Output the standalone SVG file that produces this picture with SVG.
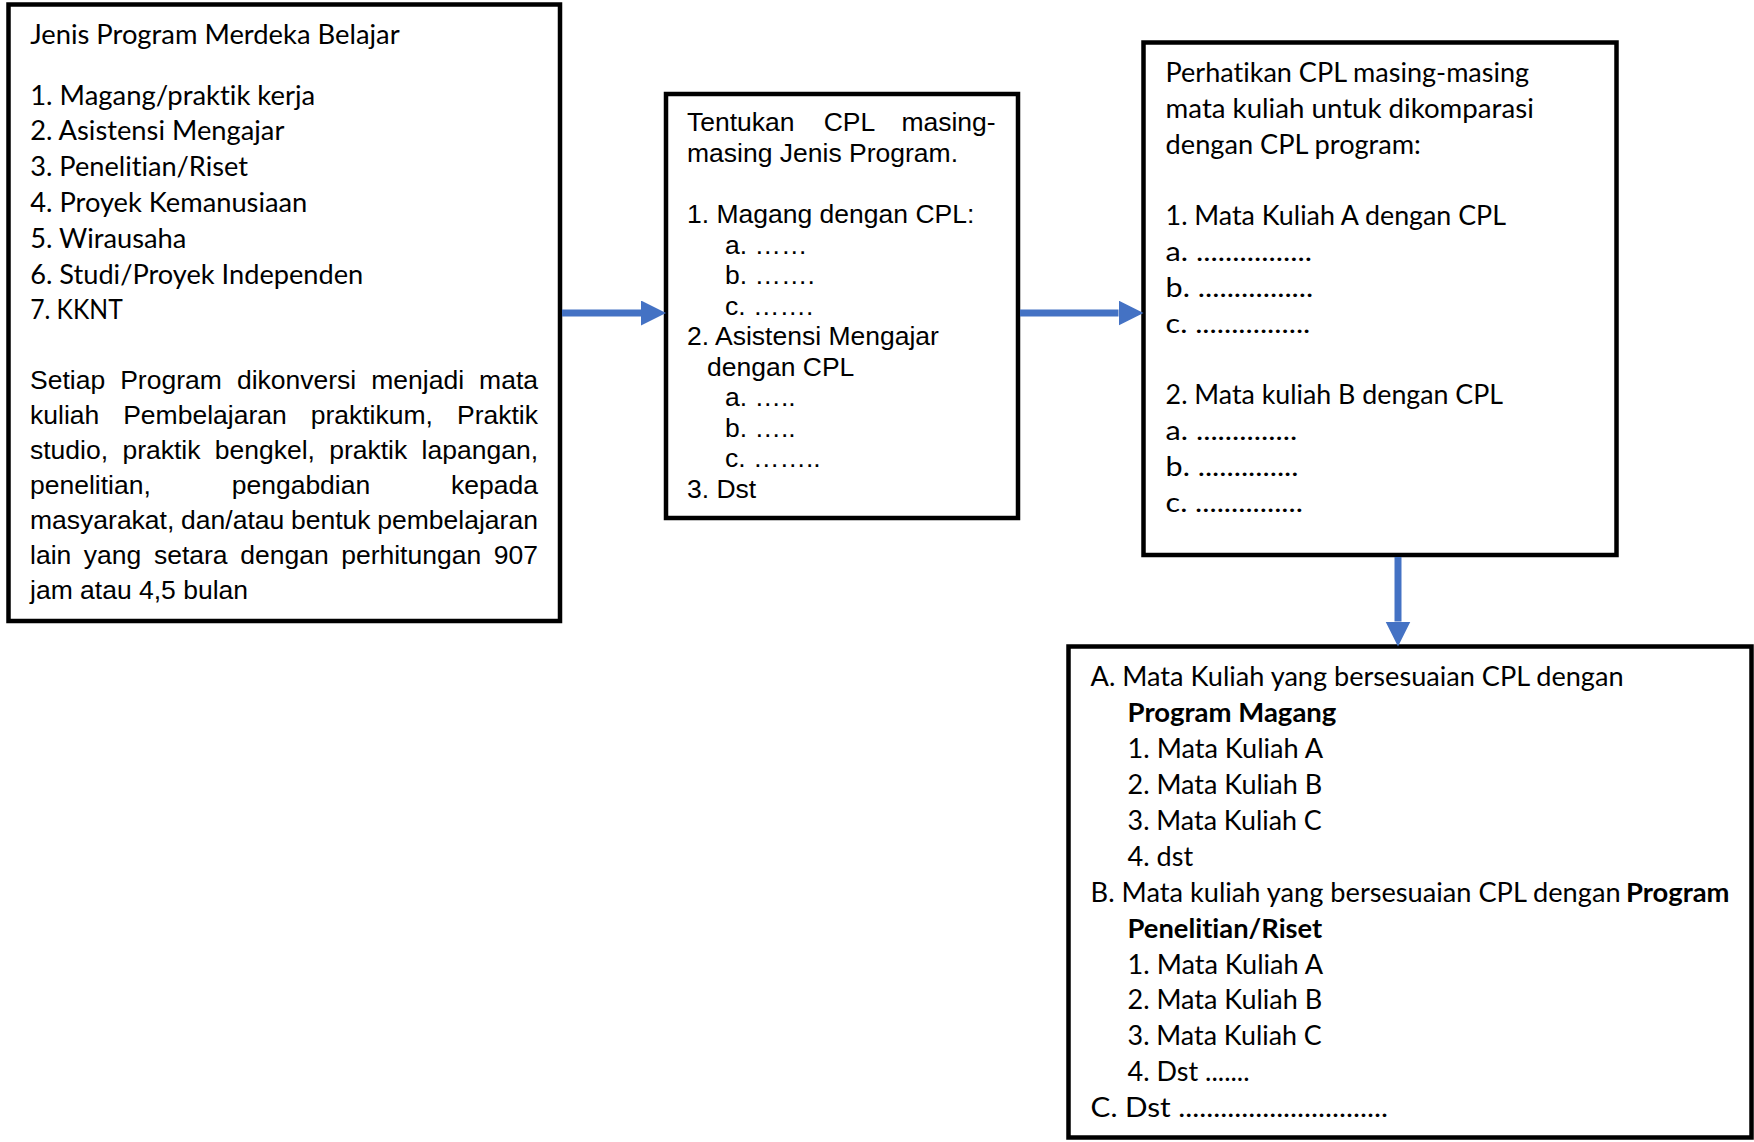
<svg xmlns="http://www.w3.org/2000/svg" width="1754" height="1142" viewBox="0 0 1754 1142">
<style>
.box{fill:#fff;stroke:#000;stroke-width:4.5}
.cal,.calb{font-family:Lato,"Open Sans","Liberation Sans",sans-serif;font-size:26.8px;fill:#000;font-variant-ligatures:none;font-feature-settings:"liga" 0,"clig" 0,"dlig" 0}
.calb{font-weight:bold}
.ar{font-family:"Liberation Sans",Arial,sans-serif;font-size:26.5px;fill:#000}
.conn{stroke:#4472C4;stroke-width:7;fill:none}
</style>
<defs>
<marker id="ah" markerUnits="userSpaceOnUse" markerWidth="26" markerHeight="26" refX="0" refY="12.5" orient="auto" viewBox="0 0 26 26">
<path d="M0,0 L25,12.5 L0,25 Z" fill="#4472C4"/>
</marker>
</defs>

<g id="node-jenis-program">
<rect class="box" x="8.5" y="4.5" width="551.5" height="616.5"/>
<text class="cal" x="30.2" y="44.2" textLength="369.4" lengthAdjust="spacingAndGlyphs">Jenis Program Merdeka Belajar</text>
<text class="cal" x="30.2" y="104.6" textLength="285" lengthAdjust="spacingAndGlyphs">1. Magang/praktik kerja</text>
<text class="cal" x="30.2" y="140.4" textLength="254.2" lengthAdjust="spacingAndGlyphs">2. Asistensi Mengajar</text>
<text class="cal" x="30.2" y="176.2" textLength="217.8" lengthAdjust="spacingAndGlyphs">3. Penelitian/Riset</text>
<text class="cal" x="30.2" y="212" textLength="277.1" lengthAdjust="spacingAndGlyphs">4. Proyek Kemanusiaan</text>
<text class="cal" x="30.2" y="247.8" textLength="156.2" lengthAdjust="spacingAndGlyphs">5. Wirausaha</text>
<text class="cal" x="30.2" y="283.6" textLength="333.1" lengthAdjust="spacingAndGlyphs">6. Studi/Proyek Independen</text>
<text class="cal" x="30.2" y="319.4" textLength="92.5" lengthAdjust="spacingAndGlyphs">7. KKNT</text>
<text class="ar" y="388.8"><tspan x="30">Setiap</tspan><tspan x="120.2">Program</tspan><tspan x="236.9">dikonversi</tspan><tspan x="371.3">menjadi</tspan><tspan x="479.1">mata</tspan></text>
<text class="ar" y="423.8"><tspan x="30">kuliah</tspan><tspan x="123.2">Pembelajaran</tspan><tspan x="310.7">praktikum,</tspan><tspan x="457">Praktik</tspan></text>
<text class="ar" y="458.9"><tspan x="30">studio,</tspan><tspan x="122.4">praktik</tspan><tspan x="214.7">bengkel,</tspan><tspan x="329.2">praktik</tspan><tspan x="421.6">lapangan,</tspan></text>
<text class="ar" y="493.9"><tspan x="30">penelitian,</tspan><tspan x="231.7">pengabdian</tspan><tspan x="451.1">kepada</tspan></text>
<text class="ar" y="528.9"><tspan x="30">masyarakat,</tspan><tspan x="181.1">dan/atau</tspan><tspan x="291">bentuk</tspan><tspan x="377.3">pembelajaran</tspan></text>
<text class="ar" y="564"><tspan x="30">lain</tspan><tspan x="83.8">yang</tspan><tspan x="153.9">setara</tspan><tspan x="240.2">dengan</tspan><tspan x="341.2">perhitungan</tspan><tspan x="493.8">907</tspan></text>
<text class="ar" x="30" y="599">jam atau 4,5 bulan</text>
</g>

<g id="node-tentukan-cpl">
<rect class="box" x="666" y="94" width="352" height="424"/>
<text class="ar" y="131"><tspan x="687">Tentukan</tspan><tspan x="823.7">CPL</tspan><tspan x="901.4">masing-</tspan></text>
<text class="ar" x="687" y="161.5">masing Jenis Program.</text>
<text class="ar" x="687" y="223">1. Magang dengan CPL:</text>
<text class="ar" x="725" y="253.5">a. ……</text>
<text class="ar" x="725" y="284">b. …….</text>
<text class="ar" x="725" y="314.5">c. …….</text>
<text class="ar" x="687" y="345">2. Asistensi Mengajar</text>
<text class="ar" x="707" y="375.5">dengan CPL</text>
<text class="ar" x="725" y="406">a. …..</text>
<text class="ar" x="725" y="436.5">b. …..</text>
<text class="ar" x="725" y="467">c. ……..</text>
<text class="ar" x="687" y="497.5">3. Dst</text>
</g>

<g id="node-perhatikan-cpl">
<rect class="box" x="1143.5" y="42.5" width="473" height="512.5"/>
<text class="cal" x="1165.6" y="82.2" textLength="363.5" lengthAdjust="spacingAndGlyphs">Perhatikan CPL masing-masing</text>
<text class="cal" x="1165.6" y="118" textLength="368.2" lengthAdjust="spacingAndGlyphs">mata kuliah untuk dikomparasi</text>
<text class="cal" x="1165.6" y="153.8" textLength="255.3" lengthAdjust="spacingAndGlyphs">dengan CPL program:</text>
<text class="cal" x="1165.6" y="225.4" textLength="340.4" lengthAdjust="spacingAndGlyphs">1. Mata Kuliah A dengan CPL</text>
<text class="cal" x="1165.6" y="261.2" textLength="146.4" lengthAdjust="spacingAndGlyphs">a. ................</text>
<text class="cal" x="1165.6" y="297" textLength="147.7" lengthAdjust="spacingAndGlyphs">b. ................</text>
<text class="cal" x="1165.6" y="332.8" textLength="144.7" lengthAdjust="spacingAndGlyphs">c. ................</text>
<text class="cal" x="1165.6" y="404.4" textLength="337.5" lengthAdjust="spacingAndGlyphs">2. Mata kuliah B dengan CPL</text>
<text class="cal" x="1165.6" y="440.2" textLength="131.6" lengthAdjust="spacingAndGlyphs">a. ..............</text>
<text class="cal" x="1165.6" y="476" textLength="132.9" lengthAdjust="spacingAndGlyphs">b. ..............</text>
<text class="cal" x="1165.6" y="511.8" textLength="137.3" lengthAdjust="spacingAndGlyphs">c. ...............</text>
</g>

<g id="node-hasil">
<rect class="box" x="1068.5" y="646.5" width="683" height="491"/>
<text class="cal" x="1090.6" y="686.3" textLength="533" lengthAdjust="spacingAndGlyphs">A. Mata Kuliah yang bersesuaian CPL dengan</text>
<text class="calb" x="1127.6" y="722.2" textLength="208.8" lengthAdjust="spacingAndGlyphs">Program Magang</text>
<text class="cal" x="1127.6" y="758.1" textLength="195.5" lengthAdjust="spacingAndGlyphs">1. Mata Kuliah A</text>
<text class="cal" x="1127.6" y="794" textLength="194.5" lengthAdjust="spacingAndGlyphs">2. Mata Kuliah B</text>
<text class="cal" x="1127.6" y="829.9" textLength="194.2" lengthAdjust="spacingAndGlyphs">3. Mata Kuliah C</text>
<text class="cal" x="1127.6" y="865.8" textLength="65.5" lengthAdjust="spacingAndGlyphs">4. dst</text>
<text class="cal" x="1090.6" y="901.7" textLength="530" lengthAdjust="spacingAndGlyphs">B. Mata kuliah yang bersesuaian CPL dengan</text>
<text class="calb" x="1626" y="901.7" textLength="103.5" lengthAdjust="spacingAndGlyphs">Program</text>
<text class="calb" x="1127.6" y="937.6" textLength="194.6" lengthAdjust="spacingAndGlyphs">Penelitian/Riset</text>
<text class="cal" x="1127.6" y="973.5" textLength="195.5" lengthAdjust="spacingAndGlyphs">1. Mata Kuliah A</text>
<text class="cal" x="1127.6" y="1009.4" textLength="194.5" lengthAdjust="spacingAndGlyphs">2. Mata Kuliah B</text>
<text class="cal" x="1127.6" y="1045.3" textLength="194.2" lengthAdjust="spacingAndGlyphs">3. Mata Kuliah C</text>
<text class="cal" x="1127.6" y="1081.2" textLength="122" lengthAdjust="spacingAndGlyphs">4. Dst .......</text>
<text class="cal" x="1090.6" y="1117.1" textLength="297.4" lengthAdjust="spacingAndGlyphs">C. Dst ..............................</text>
</g>

<g id="connectors">
<line class="conn" x1="562" y1="313" x2="641" y2="313" marker-end="url(#ah)"/>
<line class="conn" x1="1020" y1="313" x2="1118.5" y2="313" marker-end="url(#ah)"/>
<line class="conn" x1="1398" y1="557" x2="1398" y2="621.5" marker-end="url(#ah)"/>
</g>
</svg>
